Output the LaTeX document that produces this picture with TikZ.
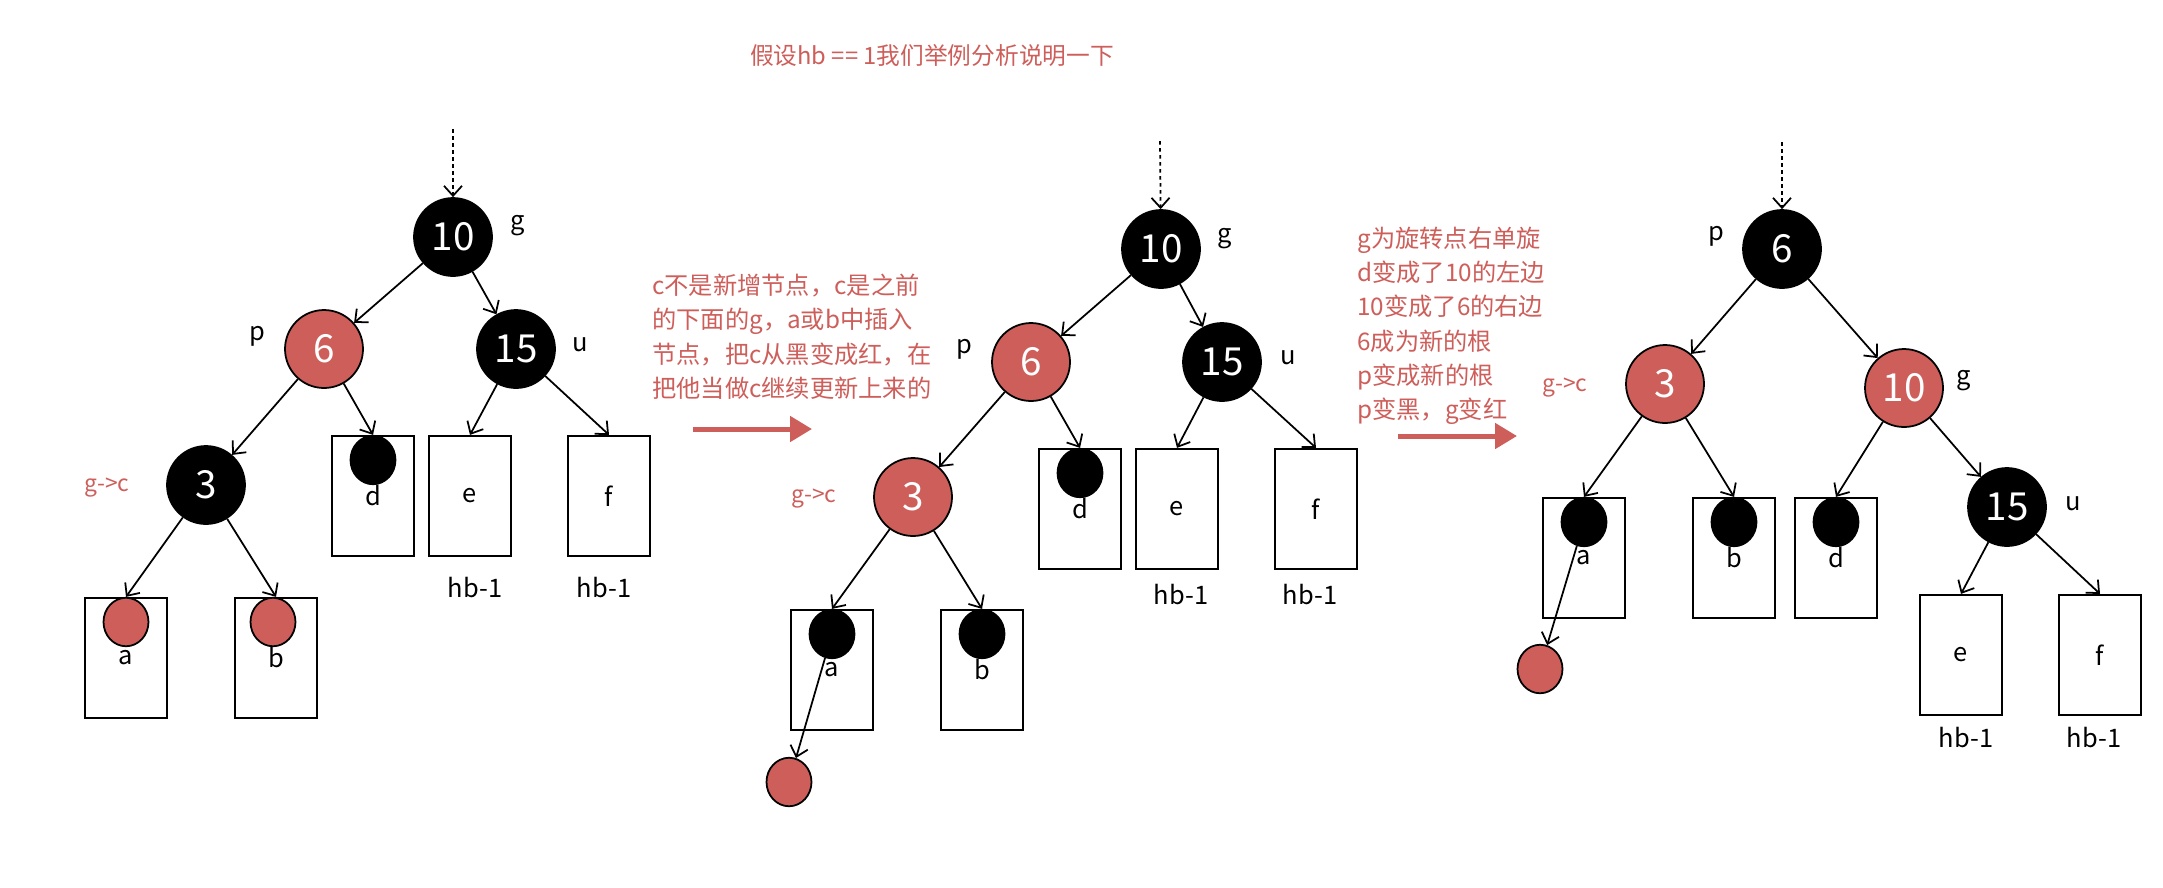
\documentclass[tikz,border=0pt]{standalone}
\usepackage{fontspec}
\setmainfont{Noto Sans CJK SC}
\usetikzlibrary{shapes.geometric, arrows.meta}

\definecolor{rbred}{RGB}{205,94,90}

\tikzset{
    keynode/.style={ellipse, draw, line width=1pt, text=white, inner sep=0pt,
        font=\fontsize{22}{22}\selectfont, minimum width=1.56cm, minimum height=1.56cm},
    blacknode/.style={keynode, fill=black},
    rednode/.style={keynode, fill=rbred},
    leafdot/.style={ellipse, draw, line width=1pt, inner sep=0pt,
        minimum width=0.9cm, minimum height=0.97cm},
    leafbox/.style={draw, line width=1.3pt, inner sep=0pt, font=\fontsize{14.5}{15}\selectfont,
        minimum width=1.64cm, minimum height=2.4cm},
    link/.style={-{Straight Barb[length=0.2cm, width=0.36cm]}, line width=1pt},
    entry/.style={link, dash pattern=on 2pt off 2pt},
    lbl/.style={font=\fontsize{14.5}{15}\selectfont},
    mark lbl/.style={text=rbred, font=\fontsize{13}{14}\selectfont},
    note/.style={text=rbred, inner sep=0pt, align=left, font=\fontsize{13.8}{19.4}\selectfont},
    stepto/.style={draw=rbred, line width=0.1cm, -{Triangle[length=0.44cm, width=0.5cm]}}
}

\begin{document}
\begin{tikzpicture}[x=0.02cm, y=-0.02cm]
    \useasboundingbox (0, 0) rectangle (2163, 887);

    % title
    \node [note, font=\fontsize{13.5}{15}\selectfont] (title) at (932, 55) {假设hb == 1我们举例分析说明一下};

    % before: c recoloured red
    \coordinate (top1) at (453, 129);
    \node [blacknode] (n10a) at (453, 237) {10};
    \node [rednode] (n6a) at (324, 349) {6};
    \node [blacknode] (n15a) at (516, 349) {15};
    \node [blacknode] (n3a) at (206, 485) {3};
    \node [leafbox] (boxaa) at (126, 658) {a};
    \node [leafbox] (boxba) at (276, 658) {b};
    \node [leafbox] (boxda) at (373, 496) {d};
    \node [leafbox] (boxea) at (470, 496) {e};
    \node [leafbox] (boxfa) at (609, 496) {f};
    \node [leafdot, fill=rbred, anchor=north] (dotaa) at (boxaa.north) {};
    \node [leafdot, fill=rbred, anchor=north] (dotba) at ([xshift=-0.06cm]boxba.north) {};
    \node [leafdot, fill=black, anchor=north] (dotda) at (boxda.north) {};
    \node [lbl] (ga) at (518, 226) {g};
    \node [lbl] (pa) at (257, 336) {p};
    \node [lbl] (ua) at (580, 345) {u};
    \node [mark lbl] (ca) at (107, 488) {g->c};
    \node [lbl] (hbea) at (475, 588) {hb-1};
    \node [lbl] (hbfa) at (604, 588) {hb-1};
    \draw [entry] (top1) -- (n10a);
    \draw [link] (n10a) -- (n6a);
    \draw [link] (n10a) -- (n15a);
    \draw [link] (n6a) -- (n3a);
    \draw [link] (n6a) -- (boxda.north);
    \draw [link] (n15a) -- (boxea.north);
    \draw [link] (n15a) -- (boxfa.north);
    \draw [link] (n3a) -- (boxaa.north);
    \draw [link] (n3a) -- (boxba.north);

    % note 1
    \node [note, anchor=north west] (note1) at (652, 274) {c不是新增节点，c是之前\\的下面的g，a或b中插入\\节点，把c从黑变成红，在\\把他当做c继续更新上来的};
    \coordinate (arr1s) at (693, 429);
    \coordinate (arr1e) at (812, 429);
    \draw [stepto] (arr1s) -- (arr1e);

    % middle: c is red under red p
    \coordinate (top2) at (1160, 141);
    \node [blacknode] (n10b) at (1161, 249) {10};
    \node [rednode] (n6b) at (1031, 362) {6};
    \node [blacknode] (n15b) at (1222, 362) {15};
    \node [rednode] (n3b) at (913, 497) {3};
    \node [leafbox] (boxab) at (832, 670) {a};
    \node [leafbox] (boxbb) at (982, 670) {b};
    \node [leafbox] (boxdb) at (1080, 509) {d};
    \node [leafbox] (boxeb) at (1177, 509) {e};
    \node [leafbox] (boxfb) at (1316, 509) {f};
    \node [leafdot, fill=black, anchor=north] (dotab) at (boxab.north) {};
    \node [leafdot, fill=black, anchor=north] (dotbb) at (boxbb.north) {};
    \node [leafdot, fill=black, anchor=north] (dotdb) at (boxdb.north) {};
    \node [leafdot, fill=rbred] (newb) at (789, 782) {};
    \node [lbl] (gb) at (1225, 239) {g};
    \node [lbl] (pb) at (964, 349) {p};
    \node [lbl] (ub) at (1288, 358) {u};
    \node [mark lbl] (cb) at (814, 499) {g->c};
    \node [lbl] (hbeb) at (1181, 595) {hb-1};
    \node [lbl] (hbfb) at (1310, 595) {hb-1};
    \draw [entry] (top2) -- (n10b);
    \draw [link] (n10b) -- (n6b);
    \draw [link] (n10b) -- (n15b);
    \draw [link] (n6b) -- (n3b);
    \draw [link] (n6b) -- (boxdb.north);
    \draw [link] (n15b) -- (boxeb.north);
    \draw [link] (n15b) -- (boxfb.north);
    \draw [link] (n3b) -- (boxab.north);
    \draw [link] (n3b) -- (boxbb.north);
    \draw [link] (dotab) -- (newb);

    % note 2
    \node [note, anchor=north west] (note2) at (1357, 227) {g为旋转点右单旋\\d变成了10的左边\\10变成了6的右边\\6成为新的根\\p变成新的根\\p变黑，g变红};
    \coordinate (arr2s) at (1398, 436);
    \coordinate (arr2e) at (1517, 436);
    \draw [stepto] (arr2s) -- (arr2e);

    % after: right rotation at g
    \coordinate (top3) at (1782, 142);
    \node [blacknode] (n6c) at (1782, 249) {6};
    \node [rednode] (n3c) at (1665, 384) {3};
    \node [rednode] (n10c) at (1904, 388) {10};
    \node [blacknode] (n15c) at (2007, 507) {15};
    \node [leafbox] (boxac) at (1584, 558) {a};
    \node [leafbox] (boxbc) at (1734, 558) {b};
    \node [leafbox] (boxdc) at (1836, 558) {d};
    \node [leafbox] (boxec) at (1961, 655) {e};
    \node [leafbox] (boxfc) at (2100, 655) {f};
    \node [leafdot, fill=black, anchor=north] (dotac) at (boxac.north) {};
    \node [leafdot, fill=black, anchor=north] (dotbc) at (boxbc.north) {};
    \node [leafdot, fill=black, anchor=north] (dotdc) at (boxdc.north) {};
    \node [leafdot, fill=rbred] (newc) at (1540, 669) {};
    \node [lbl] (pc) at (1716, 236) {p};
    \node [lbl] (gc) at (1964, 381) {g};
    \node [lbl] (uc) at (2073, 504) {u};
    \node [mark lbl] (cc) at (1565, 388) {g->c};
    \node [lbl] (hbec) at (1966, 738) {hb-1};
    \node [lbl] (hbfc) at (2094, 738) {hb-1};
    \draw [entry] (top3) -- (n6c);
    \draw [link] (n6c) -- (n3c);
    \draw [link] (n6c) -- (n10c);
    \draw [link] (n3c) -- (boxac.north);
    \draw [link] (n3c) -- (boxbc.north);
    \draw [link] (n10c) -- (boxdc.north);
    \draw [link] (n10c) -- (n15c);
    \draw [link] (n15c) -- (boxec.north);
    \draw [link] (n15c) -- (boxfc.north);
    \draw [link] (dotac) -- (newc);
\end{tikzpicture}
\end{document}
